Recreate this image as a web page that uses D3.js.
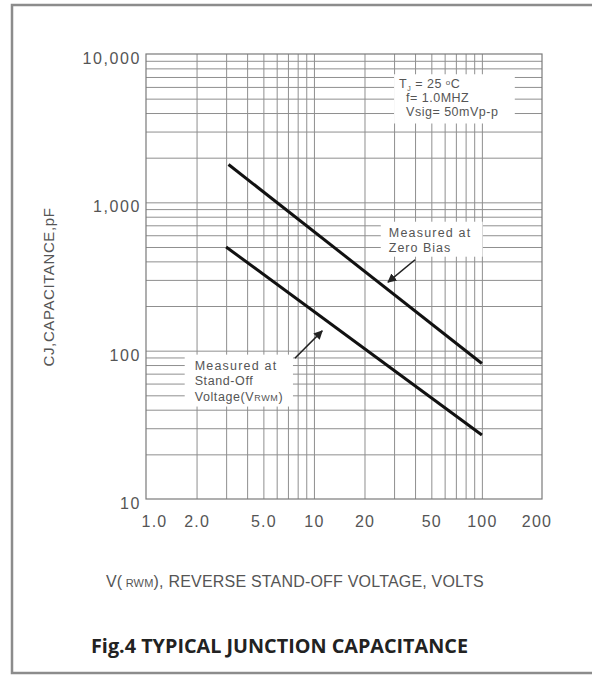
<!DOCTYPE html>
<html>
<head>
<meta charset="utf-8">
<script src="https://cdn.jsdelivr.net/npm/d3@7"></script>
<style>
  body { margin: 0; background: #fff; }
  svg { display: block; }
  .grid line { stroke: #8f8f8f; stroke-width: 1; }
  .grid path { display: none; }
  .note { font-family: "Liberation Sans", Arial, sans-serif; font-size: 12.5px; fill: #555; }
</style>
</head>
<body>
<div id="chart"></div>
<script>
// Chart values
var xTickValues = [1, 2, 5, 10, 20, 50, 100, 200];
var xTickLabels = ["1.0", "2.0", "5.0", "10", "20", "50", "100", "200"];
var xGridValues = [2, 3, 4, 5, 6, 7, 8, 9, 10, 20, 30, 40, 50, 60, 70, 80, 90, 100];
var yTickValues = [10, 100, 1000, 10000];
var yTickLabels = ["10", "100", "1,000", "10,000"];
var yGridValues = [20, 30, 40, 50, 60, 70, 80, 90, 100, 200, 300, 400, 500, 600, 700, 800, 900, 1000,
                   2000, 3000, 4000, 5000, 6000, 7000, 8000, 9000];

// capacitance (pF) vs reverse voltage (V)
var zeroBiasV = [3.1, 100];
var zeroBiasC = [1800, 82];
var standOffV = [3.0, 100];
var standOffC = [500, 27];

var width = 592,
    height = 675,
    plot = {left: 146, top: 54, right: 542, bottom: 499};

var svg = d3.select("#chart").append("svg")
    .attr("width", width)
    .attr("height", height);

// outer frame
svg.append("rect")
    .attr("x", 12).attr("y", 5)
    .attr("width", 600).attr("height", 668)
    .attr("fill", "none")
    .attr("stroke", "#8c8c8c")
    .attr("stroke-width", 2.5);

var x = d3.scaleLog()
    .domain([1, 228])
    .range([plot.left, plot.right]);

var y = d3.scaleLog()
    .domain([10, 10000])
    .range([plot.bottom, plot.top]);

var w = plot.right - plot.left,
    h = plot.bottom - plot.top;

// grid lines through the axes
svg.append("g")
    .attr("class", "grid")
    .attr("transform", "translate(0," + plot.bottom + ")")
    .call(d3.axisBottom(x).tickValues(xGridValues).tickSize(-h).tickFormat(""));

svg.append("g")
    .attr("class", "grid")
    .attr("transform", "translate(" + plot.left + ",0)")
    .call(d3.axisLeft(y).tickValues(yGridValues).tickSize(-w).tickFormat(""));

svg.append("rect")
    .attr("x", plot.left).attr("y", plot.top)
    .attr("width", w).attr("height", h)
    .attr("fill", "none")
    .attr("stroke", "#7a7a7a")
    .attr("stroke-width", 1.2);

// tick labels
var xAxis = svg.append("g")
    .attr("transform", "translate(0," + plot.bottom + ")")
    .call(d3.axisBottom(x).tickValues(xTickValues).tickSize(0).tickPadding(17)
        .tickFormat(function (d, i) { return xTickLabels[i]; }));
xAxis.select(".domain").remove();
xAxis.selectAll("text")
    .attr("fill", "#555")
    .style("font-family", "'Liberation Sans', Arial, sans-serif")
    .style("font-size", "16px")
    .style("letter-spacing", "1.2px")
    .attr("dx", function (d) { return d === 1 ? 8 : (d === 200 ? 4 : 0); });

var yAxis = svg.append("g")
    .attr("transform", "translate(" + (plot.left - 5) + ",0)")
    .call(d3.axisLeft(y).tickValues(yTickValues).tickSize(0).tickPadding(0)
        .tickFormat(function (d, i) { return yTickLabels[i]; }));
yAxis.select(".domain").remove();
yAxis.selectAll("text")
    .attr("fill", "#555")
    .attr("dy", "0.6em")
    .style("font-family", "'Liberation Sans', Arial, sans-serif")
    .style("font-size", "16px")
    .style("letter-spacing", "1.6px");

// axis titles
svg.append("text")
    .attr("transform", "translate(54,287) rotate(-90)")
    .attr("text-anchor", "middle")
    .attr("fill", "#555")
    .style("font-family", "'Liberation Sans', Arial, sans-serif")
    .style("font-size", "15px")
    .style("letter-spacing", "0.6px")
    .text("CJ,CAPACITANCE,pF");

var xTitle = svg.append("text")
    .attr("x", 106).attr("y", 587)
    .attr("fill", "#555")
    .style("font-family", "'Liberation Sans', Arial, sans-serif")
    .style("font-size", "16px")
    .style("letter-spacing", "0.2px");
xTitle.append("tspan").text("V(");
xTitle.append("tspan").style("font-size", "11px").text(" RWM");
xTitle.append("tspan").text("), REVERSE STAND-OFF VOLTAGE, VOLTS");

svg.append("text")
    .attr("x", (92 + 467) / 2).attr("y", 653)
    .attr("text-anchor", "middle")
    .attr("fill", "#222")
    .style("font-family", "'Open Sans', sans-serif")
    .style("font-weight", "bold")
    .style("font-size", "19.8px")
    .text("Fig.4 TYPICAL JUNCTION CAPACITANCE");

// white boxes holding the notes
function noteBox(x0, x1, y0, y1) {
    svg.append("rect")
        .attr("x", x(x0)).attr("y", y(y0))
        .attr("width", x(x1) - x(x0))
        .attr("height", y(y1) - y(y0))
        .attr("fill", "#fff");
    return {left: x(x0), top: y(y0)};
}

var b1 = noteBox(30, 157, 7300, 3400);
var t1 = svg.append("text").attr("class", "note").attr("x", b1.left + 5).attr("y", b1.top + 14)
    .style("letter-spacing", "0.5px");
t1.append("tspan").text("T");
t1.append("tspan").attr("dy", 3).style("font-size", "7px").text("J");
t1.append("tspan").attr("dy", -3).text(" = 25 ");
t1.append("tspan").attr("dy", -3).style("font-size", "8px").text("o");
t1.append("tspan").attr("dy", 3).text("C");
svg.append("text").attr("class", "note").attr("x", b1.left + 12).attr("y", b1.top + 28)
    .style("letter-spacing", "0.5px").text("f= 1.0MHZ");
svg.append("text").attr("class", "note").attr("x", b1.left + 12).attr("y", b1.top + 42)
    .style("letter-spacing", "0.5px").text("Vsig= 50mVp-p");

var b2 = noteBox(25, 101, 740, 430);
svg.append("text").attr("class", "note").attr("x", b2.left + 8).attr("y", b2.top + 15)
    .style("letter-spacing", "1.2px").text("Measured at");
svg.append("text").attr("class", "note").attr("x", b2.left + 8).attr("y", b2.top + 30)
    .style("letter-spacing", "1px").text("Zero Bias");

var b3 = noteBox(1.7, 7.5, 94, 42);
svg.append("text").attr("class", "note").attr("x", b3.left + 10).attr("y", b3.top + 15)
    .style("letter-spacing", "1.2px").text("Measured at");
svg.append("text").attr("class", "note").attr("x", b3.left + 10).attr("y", b3.top + 30)
    .style("letter-spacing", "0.6px").text("Stand-Off");
var t3 = svg.append("text").attr("class", "note").attr("x", b3.left + 10).attr("y", b3.top + 46)
    .style("letter-spacing", "0.6px");
t3.append("tspan").text("Voltage(V");
t3.append("tspan").style("font-size", "9px").text("RWM");
t3.append("tspan").text(")");

// data lines
var line = d3.line()
    .x(function (d) { return x(d[0]); })
    .y(function (d) { return y(d[1]); });

[[zeroBiasV, zeroBiasC], [standOffV, standOffC]].forEach(function (s) {
    svg.append("path")
        .datum(d3.zip(s[0], s[1]))
        .attr("d", line)
        .attr("fill", "none")
        .attr("stroke", "#111")
        .attr("stroke-width", 3);
});

// arrows pointing from the notes to the lines
svg.append("defs").append("marker")
    .attr("id", "head")
    .attr("viewBox", "0 0 10 10")
    .attr("refX", 9).attr("refY", 5)
    .attr("markerWidth", 9).attr("markerHeight", 9)
    .attr("markerUnits", "userSpaceOnUse")
    .attr("orient", "auto")
    .append("path")
    .attr("d", "M0,0L10,5L0,10z")
    .attr("fill", "#222");

[[[40, 410], [27.6, 290]], [[7.7, 89], [11.2, 136]]].forEach(function (a) {
    svg.append("line")
        .attr("x1", x(a[0][0])).attr("y1", y(a[0][1]))
        .attr("x2", x(a[1][0])).attr("y2", y(a[1][1]))
        .attr("stroke", "#222")
        .attr("stroke-width", 1.5)
        .attr("marker-end", "url(#head)");
});
</script>
</body>
</html>
